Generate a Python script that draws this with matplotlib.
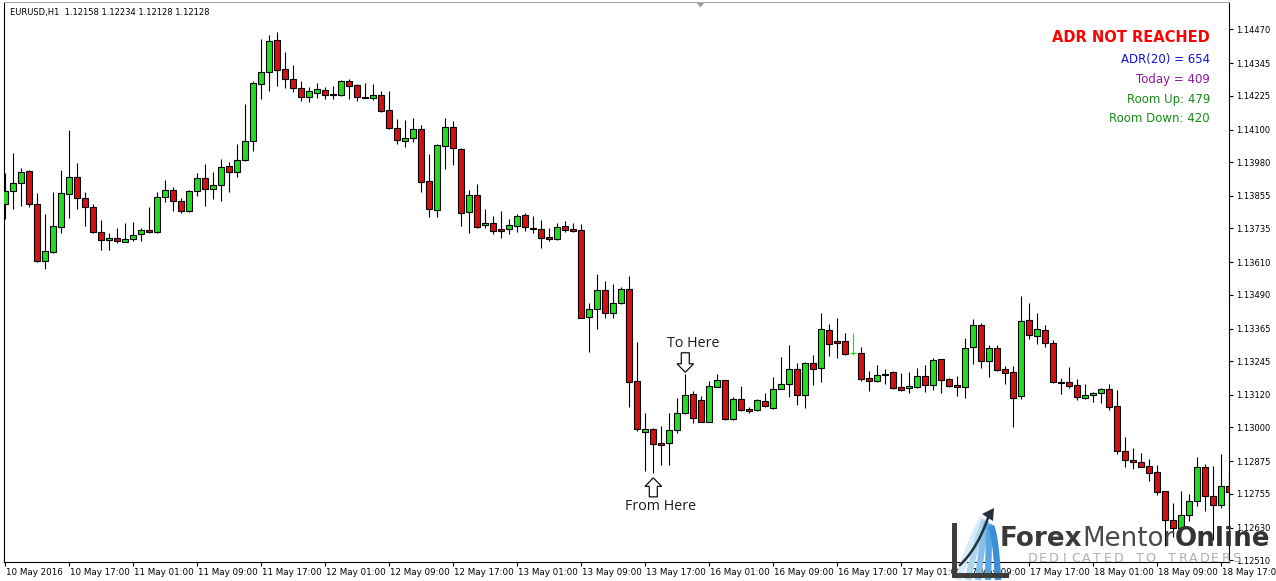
import numpy as np
import matplotlib
matplotlib.use("Agg")
import matplotlib.pyplot as plt
from matplotlib.patches import Polygon, Rectangle
from matplotlib.transforms import IdentityTransform, ScaledTranslation

# ---------------- data (EURUSD H1) ----------------
opens = [1.13824, 1.13874, 1.13901, 1.13947, 1.13824, 1.13613, 1.13649, 1.13741, 1.13861, 1.13924,
         1.13846, 1.13813, 1.13720, 1.13691, 1.13698, 1.13684, 1.13697, 1.13713, 1.13728, 1.13723,
         1.13850, 1.13876, 1.13835, 1.13799, 1.13873, 1.13920, 1.13879, 1.13894, 1.13964, 1.13942,
         1.13986, 1.14057, 1.14269, 1.14312, 1.14431, 1.14324, 1.14286, 1.14252, 1.14219, 1.14236,
         1.14245, 1.14230, 1.14227, 1.14278, 1.14264, 1.14220, 1.14215, 1.14227, 1.14171, 1.14105,
         1.14059, 1.14068, 1.14101, 1.13909, 1.13802, 1.14040, 1.14108, 1.14028, 1.13797, 1.13858,
         1.13746, 1.13754, 1.13732, 1.13732, 1.13743, 1.13783, 1.13736, 1.13732, 1.13703, 1.13697,
         1.13743, 1.13732, 1.13728, 1.13406, 1.13436, 1.13506, 1.13423, 1.13458, 1.13510, 1.13170,
         1.12984, 1.12994, 1.12941, 1.12941, 1.12989, 1.13052, 1.13123, 1.13100, 1.13021, 1.13150,
         1.13174, 1.13032, 1.13104, 1.13067, 1.13065, 1.13096, 1.13073, 1.13143, 1.13159, 1.13214,
         1.13118, 1.13237, 1.13218, 1.13360, 1.13318, 1.13318, 1.13273, 1.13274, 1.13181, 1.13170,
         1.13197, 1.13204, 1.13148, 1.13144, 1.13150, 1.13190, 1.13155, 1.13251, 1.13177, 1.13155,
         1.13150, 1.13296, 1.13377, 1.13244, 1.13293, 1.13214, 1.13203, 1.13115, 1.13397, 1.13339,
         1.13360, 1.13312, 1.13168, 1.13166, 1.13155, 1.13110, 1.13119, 1.13126, 1.13142, 1.13080,
         1.12912, 1.12879, 1.12871, 1.12857, 1.12834, 1.12764, 1.12658, 1.12629, 1.12675, 1.12727,
         1.12852, 1.12745, 1.12712, 1.12783]
highs = [1.13938, 1.14012, 1.13957, 1.13951, 1.13865, 1.13788, 1.13868, 1.13951, 1.14098, 1.13975,
         1.13868, 1.13824, 1.13766, 1.13717, 1.13735, 1.13756, 1.13759, 1.13737, 1.13815, 1.13868,
         1.13914, 1.13889, 1.13846, 1.13877, 1.13941, 1.13973, 1.13943, 1.13990, 1.13979, 1.14047,
         1.14194, 1.14278, 1.14435, 1.14449, 1.14460, 1.14387, 1.14338, 1.14279, 1.14257, 1.14272,
         1.14256, 1.14261, 1.14282, 1.14286, 1.14268, 1.14272, 1.14267, 1.14242, 1.14242, 1.14138,
         1.14134, 1.14142, 1.14117, 1.14009, 1.14046, 1.14142, 1.14132, 1.14031, 1.13876, 1.13898,
         1.13805, 1.13781, 1.13799, 1.13769, 1.13788, 1.13791, 1.13781, 1.13766, 1.13735, 1.13754,
         1.13762, 1.13755, 1.13750, 1.13458, 1.13565, 1.13541, 1.13530, 1.13517, 1.13559, 1.13315,
         1.13054, 1.12999, 1.13005, 1.13053, 1.13107, 1.13197, 1.13134, 1.13116, 1.13170, 1.13197,
         1.13176, 1.13113, 1.13153, 1.13076, 1.13104, 1.13126, 1.13185, 1.13259, 1.13305, 1.13238,
         1.13240, 1.13267, 1.13421, 1.13382, 1.13403, 1.13350, 1.13350, 1.13297, 1.13208, 1.13230,
         1.13214, 1.13208, 1.13201, 1.13203, 1.13219, 1.13230, 1.13257, 1.13253, 1.13181, 1.13191,
         1.13331, 1.13400, 1.13384, 1.13303, 1.13303, 1.13227, 1.13228, 1.13485, 1.13460, 1.13422,
         1.13378, 1.13323, 1.13181, 1.13222, 1.13177, 1.13159, 1.13132, 1.13144, 1.13160, 1.13138,
         1.12964, 1.12923, 1.12905, 1.12882, 1.12861, 1.12765, 1.12722, 1.12765, 1.12754, 1.12890,
         1.12866, 1.12857, 1.12902, 1.12828]
lows = [1.13770, 1.13807, 1.13819, 1.13815, 1.13611, 1.13584, 1.13645, 1.13717, 1.13774, 1.13807,
        1.13745, 1.13718, 1.13655, 1.13655, 1.13680, 1.13683, 1.13689, 1.13689, 1.13719, 1.13719,
        1.13832, 1.13800, 1.13793, 1.13797, 1.13856, 1.13819, 1.13842, 1.13837, 1.13870, 1.13926,
        1.13984, 1.14022, 1.14214, 1.14244, 1.14262, 1.14255, 1.14240, 1.14206, 1.14203, 1.14217,
        1.14213, 1.14214, 1.14225, 1.14213, 1.14207, 1.14215, 1.14210, 1.14166, 1.14103, 1.14046,
        1.14034, 1.14055, 1.13870, 1.13778, 1.13778, 1.13953, 1.13969, 1.13745, 1.13717, 1.13735,
        1.13737, 1.13714, 1.13701, 1.13715, 1.13723, 1.13726, 1.13719, 1.13661, 1.13689, 1.13693,
        1.13723, 1.13723, 1.13403, 1.13279, 1.13364, 1.13403, 1.13405, 1.13455, 1.13076, 1.12988,
        1.12840, 1.12830, 1.12861, 1.12861, 1.12978, 1.13049, 1.13017, 1.13019, 1.13019, 1.13148,
        1.13028, 1.13027, 1.13059, 1.13052, 1.13061, 1.13076, 1.13069, 1.13141, 1.13113, 1.13081,
        1.13073, 1.13156, 1.13166, 1.13262, 1.13255, 1.13266, 1.13268, 1.13170, 1.13135, 1.13168,
        1.13161, 1.13143, 1.13134, 1.13128, 1.13146, 1.13132, 1.13138, 1.13128, 1.13148, 1.13117,
        1.13107, 1.13235, 1.13220, 1.13187, 1.13207, 1.13161, 1.13000, 1.13104, 1.13326, 1.13309,
        1.13297, 1.13164, 1.13122, 1.13144, 1.13102, 1.13106, 1.13095, 1.13091, 1.13064, 1.12900,
        1.12854, 1.12845, 1.12853, 1.12802, 1.12751, 1.12562, 1.12595, 1.12613, 1.12655, 1.12711,
        1.12692, 1.12584, 1.12701, 1.12697]
closes = [1.13873, 1.13901, 1.13942, 1.13824, 1.13613, 1.13650, 1.13743, 1.13865, 1.13924, 1.13846,
          1.13813, 1.13720, 1.13692, 1.13698, 1.13689, 1.13695, 1.13709, 1.13729, 1.13723, 1.13850,
          1.13876, 1.13835, 1.13799, 1.13873, 1.13920, 1.13879, 1.13894, 1.13961, 1.13942, 1.13986,
          1.14057, 1.14271, 1.14312, 1.14427, 1.14319, 1.14286, 1.14252, 1.14219, 1.14241, 1.14249,
          1.14229, 1.14227, 1.14278, 1.14262, 1.14219, 1.14217, 1.14227, 1.14169, 1.14105, 1.14060,
          1.14068, 1.14101, 1.13907, 1.13805, 1.14042, 1.14108, 1.14031, 1.13793, 1.13858, 1.13741,
          1.13755, 1.13726, 1.13726, 1.13746, 1.13780, 1.13739, 1.13732, 1.13701, 1.13697, 1.13741,
          1.13730, 1.13726, 1.13405, 1.13436, 1.13506, 1.13423, 1.13458, 1.13510, 1.13169, 1.12994,
          1.12993, 1.12937, 1.12936, 1.12989, 1.13052, 1.13118, 1.13036, 1.13021, 1.13152, 1.13174,
          1.13030, 1.13104, 1.13063, 1.13061, 1.13100, 1.13078, 1.13141, 1.13159, 1.13214, 1.13118,
          1.13237, 1.13216, 1.13362, 1.13309, 1.13313, 1.13272, 1.13273, 1.13180, 1.13170, 1.13193,
          1.13192, 1.13146, 1.13139, 1.13153, 1.13190, 1.13155, 1.13249, 1.13176, 1.13152, 1.13150,
          1.13292, 1.13377, 1.13244, 1.13293, 1.13213, 1.13202, 1.13110, 1.13393, 1.13342, 1.13363,
          1.13312, 1.13169, 1.13165, 1.13154, 1.13113, 1.13118, 1.13128, 1.13142, 1.13076, 1.12912,
          1.12878, 1.12871, 1.12855, 1.12832, 1.12762, 1.12657, 1.12629, 1.12676, 1.12728, 1.12852,
          1.12745, 1.12712, 1.12782, 1.12762]

time_labels = ["10 May 2016", "10 May 17:00", "11 May 01:00", "11 May 09:00", "11 May 17:00",
               "12 May 01:00", "12 May 09:00", "12 May 17:00", "13 May 01:00", "13 May 09:00",
               "13 May 17:00", "16 May 01:00", "16 May 09:00", "16 May 17:00", "17 May 01:00",
               "17 May 09:00", "17 May 17:00", "18 May 01:00", "18 May 09:00", "18 May 17:00"]
label_step = 8
price_ticks = [1.14470, 1.14345, 1.14225, 1.14100, 1.13980, 1.13855, 1.13735, 1.13610, 1.13490,
               1.13365, 1.13245, 1.13120, 1.13000, 1.12875, 1.12755, 1.12630, 1.12510]

title_text = "EURUSD,H1  1.12158 1.12234 1.12128 1.12128"
adr_status = "ADR NOT REACHED"
adr_lines = ["ADR(20) = 654", "Today = 409", "Room Up: 479", "Room Down: 420"]
adr_colors = ["#1010e0", "#8a1a9a", "#168c16", "#168c16"]
from_bar, to_bar = 81, 85

# ---------------- figure ----------------
W, H = 1276, 581
fig = plt.figure(figsize=(W / 100, H / 100), dpi=100)
fig.patch.set_facecolor("white")
ax = fig.add_axes([4 / W, 1 - 562 / H, (1229 - 4) / W, (562 - 2) / H])
ax.set_facecolor("white")

o = np.array(opens); hi = np.array(highs); lo = np.array(lows); c = np.array(closes)
x = np.arange(len(o))
BULL = "#22dd22"
BEAR = "#d41010"

up = c > o
dn = c < o
eq = c == o
ax.vlines(x[~eq], lo[~eq], hi[~eq], color="black", lw=0.8, zorder=2)
ax.vlines(x[eq], lo[eq], hi[eq], color=BULL, lw=0.9, zorder=2)
ax.hlines(o[eq], x[eq] - 0.37, x[eq] + 0.37, color=BULL, lw=0.9, zorder=3)
ax.bar(x[up], (c - o)[up], bottom=o[up], width=0.74, color=BULL, edgecolor="black",
       linewidth=0.8, zorder=3)
ax.bar(x[dn], (o - c)[dn], bottom=c[dn], width=0.74, color=BEAR, edgecolor="black",
       linewidth=0.8, zorder=3)

ax.set_xlim(-0.16, 152.96)
ax.set_ylim(1.12503, 1.14571)

# axes styling
for s in ["left", "right", "bottom"]:
    ax.spines[s].set_color("black")
    ax.spines[s].set_linewidth(0.8)
ax.spines["top"].set_color("#a8a8a8")
ax.spines["top"].set_linewidth(0.8)

ax.yaxis.tick_right()
ax.set_yticks(price_ticks)
ax.set_yticklabels([f"{v:.5f}" for v in price_ticks])
ax.tick_params(axis="y", direction="out", length=3, width=0.8, pad=2.2, labelsize=6.0,
               colors="black")
ax.set_xticks(np.arange(0, len(time_labels) * label_step, label_step))
ax.set_xticklabels(time_labels)
ax.tick_params(axis="x", direction="out", length=3, width=0.8, pad=1.5, labelsize=6.3,
               colors="black")
off = ScaledTranslation(1 / 100, 0, fig.dpi_scale_trans)
for lbl in ax.get_xticklabels():
    lbl.set_horizontalalignment("left")
    lbl.set_transform(lbl.get_transform() + off)

# title
fig.text(10 / W, 1 - 12 / H, title_text, fontsize=6.0, ha="left", va="center", color="black")

# chart shift marker
fig.add_artist(Polygon([(697, H - 3), (704, H - 3), (700.5, H - 7.5)], closed=True,
                       transform=IdentityTransform(), facecolor="#9a9a9a", edgecolor="none"))

# ADR panel
fig.text(1210 / W, 1 - 37 / H, adr_status, fontsize=10.5, fontweight="bold", color="#ff0000",
         ha="right", va="center")
for i, (t, col) in enumerate(zip(adr_lines, adr_colors)):
    fig.text(1210 / W, 1 - (59 + 20 * i) / H, t, fontsize=8.5, color=col, ha="right", va="center")

# annotations anchored to bars
def block_arrow(anchor, rel):
    ax_, ay_ = ax.transData.transform(anchor)
    verts = [(ax_ + dx, ay_ - dy) for dx, dy in rel]
    fig.add_artist(Polygon(verts, closed=True, transform=IdentityTransform(),
                           facecolor="white", edgecolor="#111111", lw=0.9, zorder=10))

down_rel = [(-4, -21.3), (4, -21.3), (4, -10.3), (8.3, -10.3), (0, -1.8), (-8.3, -10.3), (-4, -10.3)]
up_rel = [(0, 4.4), (8.3, 12.9), (4, 12.9), (4, 23.4), (-4, 23.4), (-4, 12.9), (-8.3, 12.9)]
block_arrow((to_bar, highs[to_bar]), down_rel)
block_arrow((from_bar, lows[from_bar]), up_rel)
ax.annotate("To Here", (to_bar, highs[to_bar]), xytext=(7.7, 31), textcoords="offset pixels",
            ha="center", va="center", fontsize=10.3, family="Open Sans", color="#1a1a1a")
ax.annotate("From Here", (from_bar, lows[from_bar]), xytext=(7.7, -33), textcoords="offset pixels",
            ha="center", va="center", fontsize=10.3, family="Open Sans", color="#1a1a1a")

# ---------------- logo ----------------
def P(px, py):
    return (px, H - py)

def quad(p0, p1, p2, n=40):
    t = np.linspace(0, 1, n)[:, None]
    p0, p1, p2 = map(np.array, (p0, p1, p2))
    return (1 - t) ** 2 * p0 + 2 * (1 - t) * t * p1 + t ** 2 * p2

blues = ["#d6ebf8", "#add6f1", "#84bfe9", "#5aa6e0", "#3a8ed6"]
for k, col in enumerate(blues):
    pts = quad((958 + 10 * k, 580), (968 + 7 * k, 546 - 2 * k), (983 + 2 * k, 518 + 2 * k))
    pts[:, 1] = H - pts[:, 1]
    fig.add_artist(plt.Line2D(pts[:, 0], pts[:, 1], transform=IdentityTransform(), color=col,
                              lw=4.6, solid_capstyle="butt", zorder=20))
pts = quad((960, 565), (978, 548), (989, 515))
pts[:, 1] = H - pts[:, 1]
fig.add_artist(plt.Line2D(pts[:, 0], pts[:, 1], transform=IdentityTransform(), color="#26303a",
                          lw=1.8, zorder=21))
fig.add_artist(Polygon([P(994, 508), P(982, 514), P(993, 521)], closed=True,
                       transform=IdentityTransform(), facecolor="#26303a", edgecolor="none", zorder=21))
fig.add_artist(Rectangle(P(951.7, 578), 5, 55, transform=IdentityTransform(),
                         facecolor="#3d3d3d", edgecolor="none", zorder=22))
fig.add_artist(Rectangle(P(951.7, 578), 57, 5.5, transform=IdentityTransform(),
                         facecolor="#3d3d3d", edgecolor="none", zorder=22))

fig.canvas.draw()
rend = fig.canvas.get_renderer()
parts = [("Forex", "bold", "#3a3a3a"), ("Mentor", "normal", "#4a4a4a"), ("Online", "bold", "#333333")]
size = 19
texts = []
xpos = 1000
for s, wgt, col in parts:
    t = fig.text(xpos, H - 546, s, transform=IdentityTransform(), fontsize=size, fontweight=wgt,
                 color=col, ha="left", va="baseline", zorder=23)
    bb = t.get_window_extent(rend)
    xpos = bb.x1
    texts.append(t)
total = xpos - 1000
scale = 270 / total
xpos = 1000
for t in texts:
    t.set_fontsize(size * scale)
    t.set_x(xpos)
    bb = t.get_window_extent(rend)
    xpos = bb.x1

tag = "DEDICATED TO TRADERS"
pitch = (1242 - 1027) / len(tag)
for i, ch in enumerate(tag):
    fig.text(1027 + pitch * (i + 0.5), H - 562, ch, transform=IdentityTransform(), fontsize=9.2,
             color="#b0b0b0", ha="center", va="baseline", zorder=23)

fig.savefig("out.png", dpi=100, facecolor="white")
